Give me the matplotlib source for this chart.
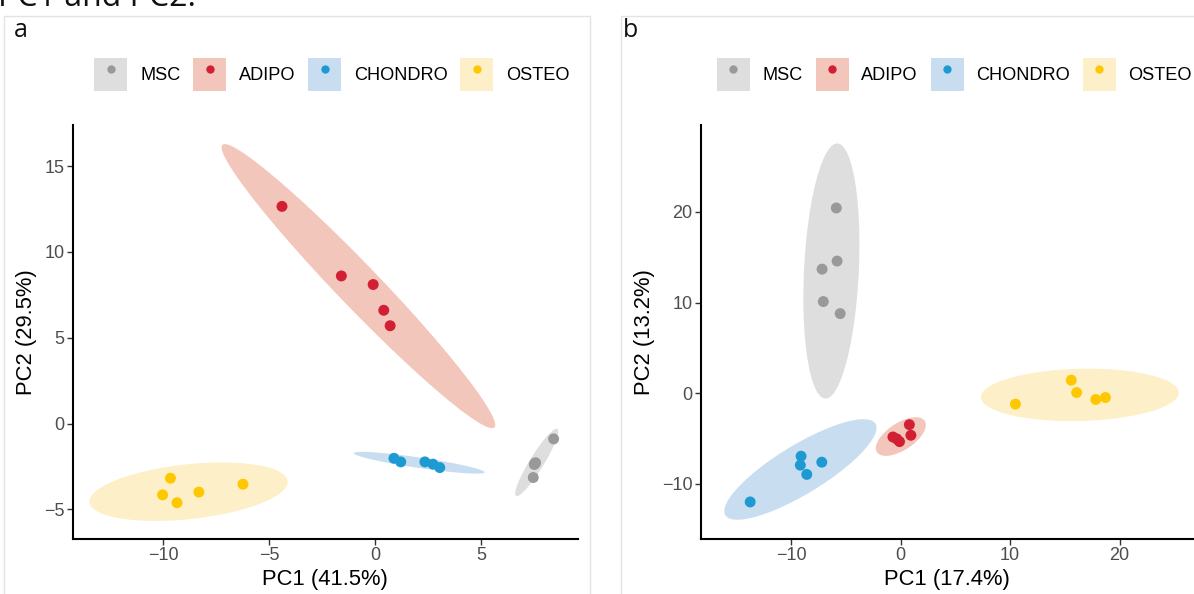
import numpy as np
import matplotlib
matplotlib.use("Agg")
import matplotlib.pyplot as plt
from matplotlib.patches import Rectangle, Polygon
from matplotlib.lines import Line2D
from matplotlib.legend_handler import HandlerTuple

# ---------------- data ----------------
groups = ["MSC", "ADIPO", "CHONDRO", "OSTEO"]
point_colors = ["#999999", "#D21F33", "#1E9AD2", "#FFC700"]
fill_colors = ["#DEDEDE", "#F2C6BA", "#C9DDF0", "#FDF0C8"]

# panel a: PC1 (41.5%) vs PC2 (29.5%)
a_msc_x = [8.41, 7.56, 7.50, 7.53, 7.45]
a_msc_y = [-0.89, -2.28, -2.38, -2.32, -3.14]
a_adipo_x = [-4.4, -1.6, -0.1, 0.4, 0.7]
a_adipo_y = [12.65, 8.6, 8.1, 6.6, 5.7]
a_chondro_x = [0.88, 1.2, 2.34, 2.72, 3.04]
a_chondro_y = [-2.02, -2.23, -2.23, -2.36, -2.56]
a_osteo_x = [-9.66, -10.03, -9.35, -8.32, -6.24]
a_osteo_y = [-3.18, -4.15, -4.61, -3.99, -3.53]

# panel b: PC1 (17.4%) vs PC2 (13.2%)
b_msc_x = [-5.87, -5.80, -7.17, -7.06, -5.52]
b_msc_y = [20.44, 14.58, 13.69, 10.11, 8.78]
b_adipo_x = [0.80, 0.94, -0.70, -0.35, -0.10]
b_adipo_y = [-3.48, -4.65, -4.84, -5.05, -5.35]
b_chondro_x = [-9.09, -9.16, -8.57, -7.20, -13.74]
b_chondro_y = [-6.96, -7.95, -8.97, -7.62, -12.01]
b_osteo_x = [15.59, 16.08, 17.83, 18.71, 10.49]
b_osteo_y = [1.43, 0.07, -0.70, -0.48, -1.21]

panel_a = [(a_msc_x, a_msc_y), (a_adipo_x, a_adipo_y),
           (a_chondro_x, a_chondro_y), (a_osteo_x, a_osteo_y)]
panel_b = [(b_msc_x, b_msc_y), (b_adipo_x, b_adipo_y),
           (b_chondro_x, b_chondro_y), (b_osteo_x, b_osteo_y)]

a_xticks = [-10, -5, 0, 5]
a_yticks = [-5, 0, 5, 10, 15]
b_xticks = [-10, 0, 10, 20]
b_yticks = [-10, 0, 10, 20]
a_xlabel, a_ylabel = "PC1 (41.5%)", "PC2 (29.5%)"
b_xlabel, b_ylabel = "PC1 (17.4%)", "PC2 (13.2%)"


# ---------------- ellipse (like ggplot2 stat_ellipse, type = "t") ----------------
def cov_trob(X, nu=5, maxit=25, tol=0.01):
    n, p = X.shape
    wt = np.ones(n)
    loc = X.mean(axis=0)
    w = np.sqrt(wt)
    Xc = X - loc
    for _ in range(maxit):
        w0 = w
        Xc = X - loc
        A = np.sqrt(w / w.sum())[:, None] * Xc
        _, d, Vt = np.linalg.svd(A, full_matrices=False)
        wX = Xc @ Vt.T @ np.diag(1.0 / d)
        Q = (wX ** 2).sum(axis=1)
        w = wt * (nu + p) / (nu + Q)
        loc = (w[:, None] * X).sum(axis=0) / w.sum()
        if np.all(np.abs(w - w0) < tol):
            break
    S = np.sqrt(w)[:, None] * Xc
    return S.T @ S / wt.sum(), loc


def ellipse_path(x, y, level=0.95, segments=51):
    X = np.column_stack([x, y]).astype(float)
    n = X.shape[0]
    cov, center = cov_trob(X)
    dfd = n - 1
    qf = dfd / 2.0 * ((1 - level) ** (-2.0 / dfd) - 1)  # F quantile, df1 = 2
    radius = np.sqrt(2 * qf)
    R = np.linalg.cholesky(cov).T
    ang = np.linspace(0, 2 * np.pi, segments + 1)
    circ = np.column_stack([np.cos(ang), np.sin(ang)])
    return center + radius * (circ @ R)


# ---------------- figure ----------------
W, H = 1194, 594
fig = plt.figure(figsize=(W / 100, H / 100), dpi=100)
plt.rcParams["font.family"] = ["Liberation Sans", "DejaVu Sans"]

def fx(px):
    return px / W

def fy(py):
    return 1 - py / H

# panel frames
fig.add_artist(Rectangle((fx(4), fy(600)), fx(590) - fx(4), fy(16) - fy(600),
                         transform=fig.transFigure, fill=False,
                         edgecolor="#E3E3E3", linewidth=1.0))
fig.add_artist(Rectangle((fx(621), fy(600)), fx(1200) - fx(621), fy(16) - fy(600),
                         transform=fig.transFigure, fill=False,
                         edgecolor="#E3E3E3", linewidth=1.0))

# caption text that the reference shows cut off at the very top
fig.text(fx(-2), fy(6), "PC1 and PC2.", fontsize=23, family=["Open Sans", "DejaVu Sans"],
         ha="left", va="baseline", color="#111111")

fig.text(fx(14), fy(37), "a", fontsize=18, family=["Open Sans", "DejaVu Sans"],
         ha="left", va="baseline", color="#111111")
fig.text(fx(623), fy(37), "b", fontsize=18, family=["Open Sans", "DejaVu Sans"],
         ha="left", va="baseline", color="#111111")


def draw_panel(rect, data, xlim, ylim, xticks, yticks, xlabel, ylabel):
    ax = fig.add_axes(rect)
    for (x, y), pc, fc in zip(data, point_colors, fill_colors):
        e = ellipse_path(x, y)
        ax.add_patch(Polygon(e, closed=True, facecolor=fc, edgecolor="none", zorder=1))
    for (x, y), pc in zip(data, point_colors):
        ax.scatter(x, y, s=62, color=pc, edgecolors="none", zorder=3)
    ax.set_xlim(*xlim)
    ax.set_ylim(*ylim)
    ax.set_xticks(xticks)
    ax.set_yticks(yticks)
    ax.set_xticklabels([str(t).replace("-", "\u2212") for t in xticks])
    ax.set_yticklabels([str(t).replace("-", "\u2212") for t in yticks])
    for s in ["top", "right"]:
        ax.spines[s].set_visible(False)
    for s in ["left", "bottom"]:
        ax.spines[s].set_linewidth(1.5)
        ax.spines[s].set_color("black")
    ax.tick_params(direction="out", length=4, width=1.0, color="#333333",
                   labelsize=13, labelcolor="#4D4D4D", pad=2)
    ax.set_xlabel(xlabel, fontsize=15.8, color="black", labelpad=3)
    ax.set_ylabel(ylabel, fontsize=15.8, color="black", labelpad=5)
    ax.patch.set_alpha(0)
    return ax


axA = draw_panel([fx(72.7), fy(539), fx(578) - fx(72.7), fy(125) - fy(539)],
                 panel_a, (-14.27, 9.56), (-6.72, 17.39),
                 a_xticks, a_yticks, a_xlabel, a_ylabel)
axB = draw_panel([fx(700.8), fy(539), fx(1194) - fx(700.8), fy(125) - fy(539)],
                 panel_b, (-18.25, 26.8), (-16.1, 29.6),
                 b_xticks, b_yticks, b_xlabel, b_ylabel)


def add_legend(cx, cy):
    handles = []
    for pc, fc in zip(point_colors, fill_colors):
        box = Rectangle((0, 0), 1, 1, facecolor=fc, edgecolor="none")
        dot = Line2D([], [], linestyle="none", marker="o", markersize=6,
                     markerfacecolor=pc, markeredgecolor="none")
        handles.append((box, dot))
    fs = 13.1
    key = 33 / (fs * 100 / 72)          # key size in font-size units
    hh = (key - 0.245) / 0.65           # matplotlib shrinks the handle height
    fig.legend(handles, groups, loc="center", bbox_to_anchor=(fx(cx), fy(cy)),
               bbox_transform=fig.transFigure, ncol=4, frameon=False,
               fontsize=fs, handlelength=key, handleheight=hh,
               handletextpad=0.7, columnspacing=0.7,
               handler_map={tuple: HandlerTuple(ndivide=1, pad=0)})


add_legend(332, 74)
add_legend(954.5, 74)

fig.savefig("out.png", dpi=100)
